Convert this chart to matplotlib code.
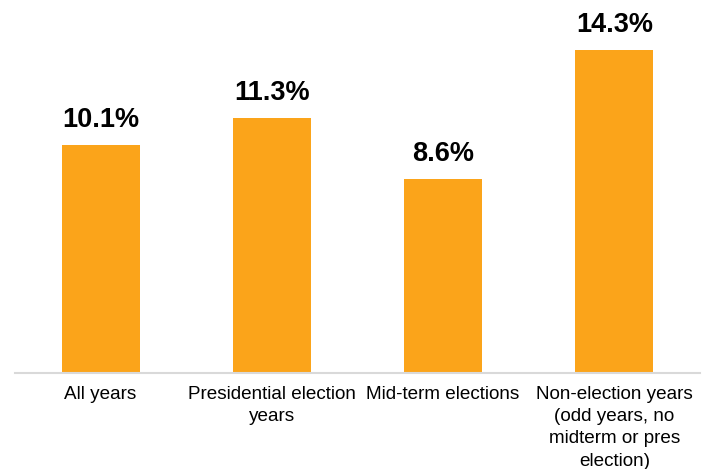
import matplotlib
matplotlib.use("Agg")
import matplotlib.pyplot as plt

categories = ["All years", "Presidential election\nyears", "Mid-term elections",
              "Non-election years\n(odd years, no\nmidterm or pres\nelection)"]
values = [10.1, 11.3, 8.6, 14.3]
value_labels = ["10.1%", "11.3%", "8.6%", "14.3%"]

plt.rcParams['font.family'] = ['Liberation Sans', 'DejaVu Sans']

fig = plt.figure(figsize=(7.06, 4.69), dpi=100)
ax = fig.add_axes([15/706, (469-373)/469, 685/706, 373/469])
x = list(range(len(categories)))
bars = ax.bar(x, values, width=0.455, color="#FBA41A")
ax.set_xlim(-0.5, len(categories) - 0.5)
ax.set_ylim(0, 16.5)
for xi, v, lab in zip(x, values, value_labels):
    ax.annotate(lab, (xi, v), xytext=(0, 8.5), textcoords="offset points",
                ha="center", va="bottom", fontsize=19.5, fontweight="bold", color="black")
ax.set_xticks(x)
ax.set_xticklabels(categories, fontsize=13.6, linespacing=1.42, va="top")
ax.tick_params(axis="x", length=0, pad=9)
ax.set_yticks([])
for s in ["top", "right", "left"]:
    ax.spines[s].set_visible(False)
ax.spines["bottom"].set_color("#D9D9D9")
ax.spines["bottom"].set_linewidth(1.5)
fig.savefig("out.png", dpi=100)
